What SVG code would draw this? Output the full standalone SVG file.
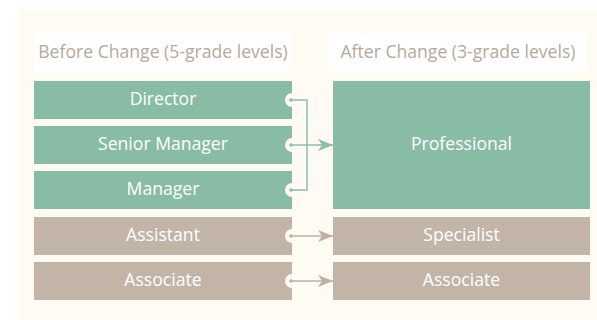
<svg xmlns="http://www.w3.org/2000/svg" width="597" height="320" viewBox="0 0 597 320">
<style>
.hdr{fill:#ffffff}
.htxt{font-family:"Open Sans","DejaVu Sans",sans-serif;font-size:17.6px;fill:#b5a99c;text-anchor:middle}
.g{fill:#88bca4}
.t{fill:#c2b5a7}
.btxt{font-family:"Open Sans","DejaVu Sans",sans-serif;font-size:17.6px;font-weight:500;fill:#ffffff;text-anchor:middle}
.notch{fill:#fefbf3}
.lg{stroke:#8cbfa8;stroke-width:1.5;fill:none}
.lt{stroke:#bdb1a4;stroke-width:1.5;fill:none}
</style>
<defs>
<marker id="ag" markerWidth="15" markerHeight="12" refX="15" refY="6" orient="auto" markerUnits="userSpaceOnUse"><path d="M0,0 L15,6 L0,12 L4,6 Z" fill="#8cbfa8"/></marker>
<marker id="at" markerWidth="15" markerHeight="12" refX="15" refY="6" orient="auto" markerUnits="userSpaceOnUse"><path d="M0,0 L15,6 L0,12 L4,6 Z" fill="#bdb1a4"/></marker>
</defs>
<rect width="597" height="320" fill="#ffffff"/>
<rect x="18" y="10" width="579" height="310" fill="#fefbf3"/>
<g id="header-before"><rect class="hdr" x="34" y="33" width="258" height="38"/><text class="htxt" x="163" y="58">Before Change (5-grade levels)</text></g>
<g id="header-after"><rect class="hdr" x="329" y="33" width="258" height="38"/><text class="htxt" x="458" y="58">After Change (3-grade levels)</text></g>
<g id="director"><rect class="g" x="34" y="81" width="258" height="38"/><circle class="notch" cx="292" cy="100" r="7"/><text class="btxt" x="163" y="105">Director</text></g>
<g id="senior-manager"><rect class="g" x="34" y="126" width="258" height="38"/><circle class="notch" cx="292" cy="145" r="7"/><text class="btxt" x="163" y="150">Senior Manager</text></g>
<g id="manager"><rect class="g" x="34" y="171" width="258" height="38"/><circle class="notch" cx="292" cy="190" r="7"/><text class="btxt" x="163" y="195">Manager</text></g>
<g id="assistant"><rect class="t" x="34" y="217" width="258" height="38"/><circle class="notch" cx="292" cy="236" r="7"/><text class="btxt" x="163" y="241">Assistant</text></g>
<g id="associate-before"><rect class="t" x="34" y="262" width="258" height="38"/><circle class="notch" cx="292" cy="281" r="7"/><text class="btxt" x="163" y="286">Associate</text></g>
<g id="professional"><rect class="g" x="333" y="81" width="257" height="128"/><text class="btxt" x="461.5" y="150">Professional</text></g>
<g id="specialist"><rect class="t" x="333" y="217" width="257" height="38"/><text class="btxt" x="461.5" y="241">Specialist</text></g>
<g id="associate-after"><rect class="t" x="333" y="262" width="257" height="38"/><text class="btxt" x="461.5" y="286">Associate</text></g>
<g id="connectors">
<path class="lg" d="M291,100 H307 V190 H291"/>
<path class="lg" d="M291,145 H333" marker-end="url(#ag)"/>
<circle cx="291" cy="100" r="1.8" fill="#8cbfa8"/>
<circle cx="291" cy="145" r="1.8" fill="#8cbfa8"/>
<circle cx="291" cy="190" r="1.8" fill="#8cbfa8"/>
<path class="lt" d="M291,236 H333" marker-end="url(#at)"/>
<path class="lt" d="M291,281 H333" marker-end="url(#at)"/>
<circle cx="291" cy="236" r="1.8" fill="#bdb1a4"/>
<circle cx="291" cy="281" r="1.8" fill="#bdb1a4"/>
</g>
</svg>
